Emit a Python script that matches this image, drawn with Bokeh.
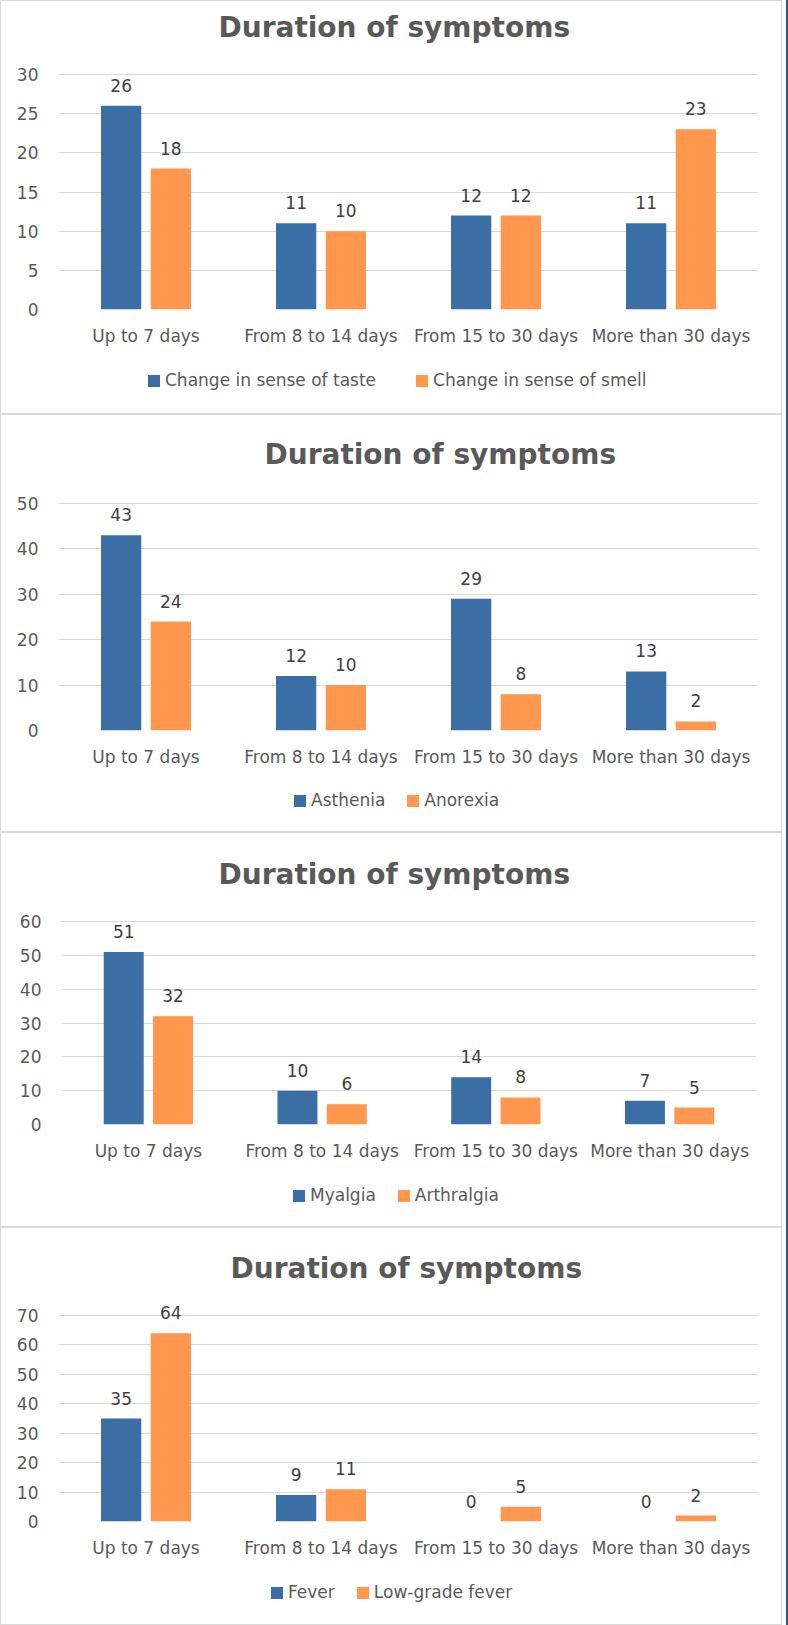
from bokeh.plotting import figure
from bokeh.models import (ColumnDataSource, FactorRange, Range1d, FixedTicker,
                          Legend, LegendItem, LabelSet, Label)
from bokeh.core.properties import value
from bokeh.transform import dodge
from bokeh.layouts import column
from bokeh.embed import file_html
from bokeh.resources import INLINE

# ---------------- data ----------------
categories = ["Up to 7 days", "From 8 to 14 days", "From 15 to 30 days", "More than 30 days"]
chart_title = "Duration of symptoms"

taste_names = ["Change in sense of taste", "Change in sense of smell"]
taste = [26, 11, 12, 11]
smell = [18, 10, 12, 23]
ticks_1 = [0, 5, 10, 15, 20, 25, 30]

general_names = ["Asthenia", "Anorexia"]
asthenia = [43, 12, 29, 13]
anorexia = [24, 10, 8, 2]
ticks_2 = [0, 10, 20, 30, 40, 50]

pain_names = ["Myalgia", "Arthralgia"]
myalgia = [51, 10, 14, 7]
arthralgia = [32, 6, 8, 5]
ticks_3 = [0, 10, 20, 30, 40, 50, 60]

fever_names = ["Fever", "Low-grade fever"]
fever = [35, 9, 0, 0]
low_grade_fever = [64, 11, 5, 2]
ticks_4 = [0, 10, 20, 30, 40, 50, 60, 70]

# ---------------- style ----------------
BLUE = "#3A6EA5"
ORANGE = "#FF974F"
TEXT = "#595959"
LABEL = "#404040"
GRID = "#d9d9d9"
FONT = "DejaVu Sans"

W = 780
AXIS_H = 45   # space under the plotting frame for the category labels
# h: panel inner height, ext: space above top gridline, gh: gridline span,
# left: frame left, fw: frame width, tx/ty: title offsets,
# lx/ly: legend position (relative to frame), sp: legend spacing
layouts = [
    dict(h=412, ext=73, gh=235, left=57, fw=700, tx=160, ty=47, lx=88, ly=23, sp=38),
    dict(h=416, ext=88, gh=227, left=57, fw=700, tx=206, ty=49, lx=234, ly=21, sp=20),
    dict(h=393, ext=88, gh=203, left=60, fw=695, tx=157, ty=47, lx=230, ly=21, sp=20),
    dict(h=396, ext=87, gh=206, left=57, fw=700, tx=172, ty=47, lx=211, ly=22, sp=20),
]


def make_panel(names, s1, s2, ticks, lay):
    src = ColumnDataSource(dict(cat=categories, a=s1, b=s2,
                                la=[str(v) for v in s1], lb=[str(v) for v in s2]))
    frame_h = lay["ext"] + lay["gh"]
    y_end = ticks[-1] * frame_h / lay["gh"]
    p = figure(x_range=FactorRange(*categories, range_padding=0),
               y_range=Range1d(0, y_end),
               width=W, height=frame_h + AXIS_H, output_backend="svg",
               toolbar_location=None,
               min_border_left=lay["left"], min_border_top=0,
               min_border_bottom=AXIS_H,
               min_border_right=W - lay["left"] - lay["fw"])
    p.outline_line_color = None
    p.background_fill_color = "white"
    p.border_fill_color = "white"

    r1 = p.vbar(x=dodge("cat", -0.142, range=p.x_range), top="a", width=0.23,
                source=src, color=BLUE, line_color=None)
    r2 = p.vbar(x=dodge("cat", 0.142, range=p.x_range), top="b", width=0.23,
                source=src, color=ORANGE, line_color=None)

    for txt, ycol, off in (("la", "a", -0.142), ("lb", "b", 0.142)):
        p.add_layout(LabelSet(x=dodge("cat", off, range=p.x_range), y=ycol,
                              text=txt, source=src, text_align="center",
                              text_baseline="alphabetic", y_offset=14,
                              text_font=value(FONT), text_font_size=value("17px"),
                              text_color=LABEL))

    p.add_layout(Label(x=0, y=ticks[-1], x_offset=lay["tx"], y_offset=lay["ty"],
                       text=chart_title, text_align="left", text_baseline="alphabetic",
                       text_font=FONT, text_font_style="bold", text_font_size="28px",
                       text_color=TEXT))

    p.yaxis.ticker = FixedTicker(ticks=ticks)
    p.yaxis.axis_line_color = None
    p.yaxis.major_tick_line_color = None
    p.yaxis.minor_tick_line_color = None
    p.yaxis.major_label_standoff = 14
    p.yaxis.major_label_text_font = FONT
    p.yaxis.major_label_text_font_size = "17px"
    p.yaxis.major_label_text_color = TEXT

    p.xaxis.axis_line_color = None
    p.xaxis.major_tick_line_color = None
    p.xaxis.minor_tick_line_color = None
    p.xaxis.major_label_standoff = 10
    p.xaxis.major_label_text_font = FONT
    p.xaxis.major_label_text_font_size = "17px"
    p.xaxis.major_label_text_color = TEXT

    p.xgrid.grid_line_color = None
    p.ygrid.ticker = FixedTicker(ticks=ticks)
    p.ygrid.grid_line_color = GRID
    p.ygrid.grid_line_width = 1

    # legend strip below the chart (its frame is aligned with the chart frame)
    lh = lay["h"] - frame_h - AXIS_H
    lg = figure(width=W, height=lh, x_range=Range1d(0, 1), y_range=Range1d(0, 1),
                output_backend="svg", toolbar_location=None,
                x_axis_location=None, y_axis_location=None,
                min_border_left=lay["left"], min_border_right=W - lay["left"] - lay["fw"],
                min_border_top=0, min_border_bottom=0)
    lg.grid.grid_line_color = None
    lg.outline_line_color = None
    lg.background_fill_color = "white"
    lg.border_fill_color = "white"
    # legend swatches: proxies that sit outside the strip's visible range
    proxy = ColumnDataSource(dict(x=[-1.0], top=[0.0]))
    k1 = lg.vbar(x="x", top="top", width=0.1, source=proxy, color=BLUE, line_color=None)
    k2 = lg.vbar(x="x", top="top", width=0.1, source=proxy, color=ORANGE, line_color=None)
    legend = Legend(items=[LegendItem(label=names[0], renderers=[k1]),
                           LegendItem(label=names[1], renderers=[k2])],
                    location=(lay["lx"], lay["ly"]), orientation="horizontal",
                    glyph_width=15, glyph_height=15, label_standoff=4,
                    spacing=lay["sp"], padding=0, margin=0, label_height=20,
                    border_line_color=None, background_fill_alpha=0,
                    label_text_font=FONT, label_text_font_size="17px",
                    label_text_color=TEXT)
    lg.add_layout(legend)

    return column(p, lg, spacing=0, styles={"border": "1px solid #d9d9d9"})


panels = [
    make_panel(taste_names, taste, smell, ticks_1, layouts[0]),
    make_panel(general_names, asthenia, anorexia, ticks_2, layouts[1]),
    make_panel(pain_names, myalgia, arthralgia, ticks_3, layouts[2]),
    make_panel(fever_names, fever, low_grade_fever, ticks_4, layouts[3]),
]

page = column(*panels, spacing=0,
              styles={"border-right": "2px solid #2F5597", "padding-right": "4px"})

open("out.html", "w").write(file_html(page, INLINE))
